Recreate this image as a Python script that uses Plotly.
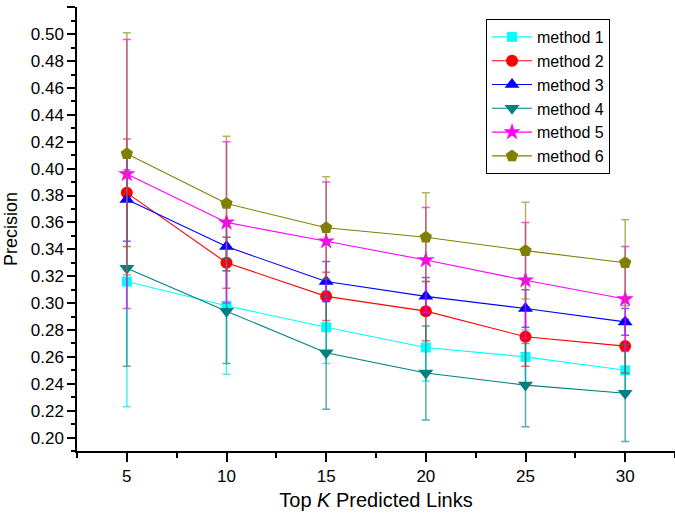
import plotly.graph_objects as go

k_values = [5, 10, 15, 20, 25, 30]
series_names = ["method 1", "method 2", "method 3", "method 4", "method 5", "method 6"]

m1 = [0.316, 0.298, 0.282, 0.267, 0.260, 0.250]
m1_err = [0.093, 0.051, 0.027, 0.025, 0.020, 0.018]
m2 = [0.382, 0.330, 0.305, 0.294, 0.275, 0.268]
m2_err = [0.040, 0.019, 0.018, 0.022, 0.022, 0.020]
m3 = [0.377, 0.342, 0.316, 0.305, 0.296, 0.286]
m3_err = [0.031, 0.018, 0.015, 0.014, 0.014, 0.010]
m4 = [0.326, 0.294, 0.263, 0.248, 0.239, 0.233]
m4_err = [0.073, 0.039, 0.042, 0.035, 0.031, 0.036]
m5 = [0.396, 0.360, 0.346, 0.332, 0.317, 0.303]
m5_err = [0.100, 0.060, 0.044, 0.039, 0.043, 0.039]
m6 = [0.411, 0.374, 0.356, 0.349, 0.339, 0.330]
m6_err = [0.090, 0.050, 0.038, 0.033, 0.036, 0.032]

values = [m1, m2, m3, m4, m5, m6]
errors = [m1_err, m2_err, m3_err, m4_err, m5_err, m6_err]
colors = ["#00FFFF", "#FF0000", "#0000FF", "#008080", "#FF00FF", "#808000"]
err_colors = ["rgba(0,230,230,0.7)", "rgba(230,40,40,0.7)", "rgba(40,40,230,0.7)",
              "rgba(0,128,128,0.65)", "rgba(255,0,255,0.7)", "rgba(128,128,0,0.6)"]
symbols = ["square", "circle", "triangle-up", "triangle-down", "star", "pentagon"]
sizes = [10, 12, 13, 13, 13, 13]

FONT = "Arial, Liberation Sans, sans-serif"

fig = go.Figure()
for name, v, e, c, ec, s, sz in zip(series_names, values, errors, colors, err_colors, symbols, sizes):
    fig.add_trace(go.Scatter(
        x=k_values, y=v, name=name, mode="lines+markers",
        line=dict(color=c, width=1.1),
        marker=dict(symbol=s, size=sz, color=c, line=dict(width=0)),
        error_y=dict(type="data", array=e, visible=True, color=ec, thickness=1.5, width=4),
    ))

fig.update_layout(
    width=675, height=516,
    margin=dict(l=77, r=0, t=7, b=65, autoexpand=False),
    paper_bgcolor="white", plot_bgcolor="white",
    font=dict(family=FONT, size=17, color="black"),
    showlegend=True,
    legend=dict(
        x=0.684, y=0.973, xanchor="left", yanchor="top",
        bordercolor="black", borderwidth=1, bgcolor="white",
        font=dict(family=FONT, size=16, color="black"),
        tracegroupgap=0, itemwidth=40,
    ),
    xaxis=dict(
        range=[2.5, 32.5], tick0=0, dtick=5, automargin=False,
        showline=True, linecolor="black", linewidth=1.5,
        ticks="outside", ticklen=9, tickwidth=1.5, tickcolor="black",
        minor=dict(dtick=2.5, ticks="outside", ticklen=5, tickwidth=1.5, tickcolor="black"),
        showgrid=False, zeroline=False,
        tickfont=dict(family=FONT, size=17),
        title=dict(text="Top <i>K</i> Predicted Links", font=dict(family=FONT, size=20), standoff=8),
    ),
    yaxis=dict(
        range=[0.19, 0.5202], tick0=0.2, dtick=0.02, tickformat=".2f", automargin=False,
        showline=True, linecolor="black", linewidth=1.5,
        ticks="outside", ticklen=8, tickwidth=1.5, tickcolor="black",
        minor=dict(dtick=0.01, ticks="outside", ticklen=4, tickwidth=1.5, tickcolor="black"),
        showgrid=False, zeroline=False,
        tickfont=dict(family=FONT, size=17),
        title=dict(text="Precision", font=dict(family=FONT, size=18), standoff=8),
    ),
)

fig.write_html(
    "out.html",
    config={"displayModeBar": False},
    post_script="document.body.style.margin='0';document.body.style.overflow='hidden';",
)
